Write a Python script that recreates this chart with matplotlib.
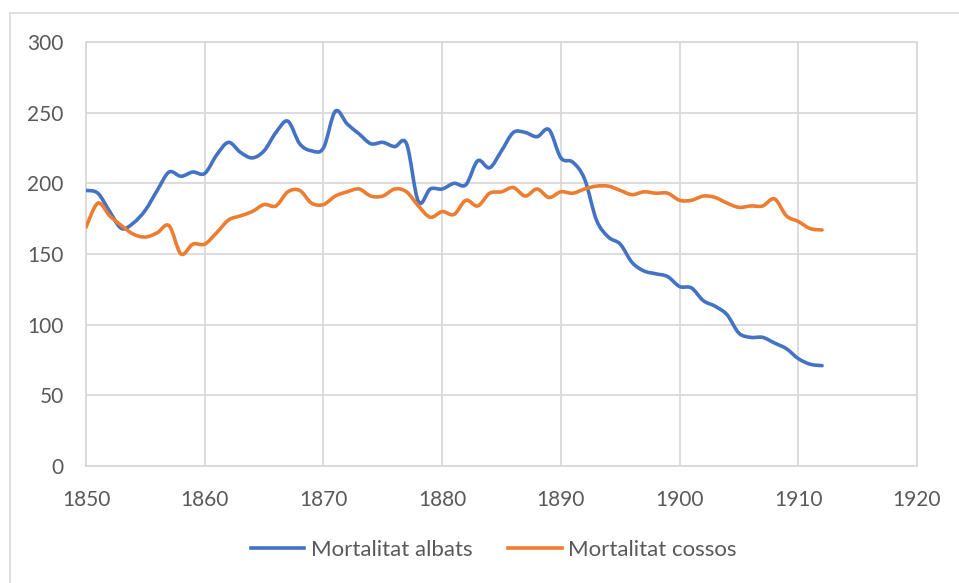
import numpy as np
import matplotlib
matplotlib.use("Agg")
import matplotlib.pyplot as plt
from matplotlib.path import Path
from matplotlib.patches import PathPatch
from matplotlib.lines import Line2D

years = list(range(1850, 1913))
albats = [195, 193, 180, 168, 172, 181, 195, 208, 205, 208, 207,
          220, 229, 222, 218, 223, 236, 244, 228, 223, 225,
          251, 242, 235, 228, 229, 226, 228, 187, 196, 196,
          200, 199, 216, 211, 223, 236, 236, 233, 238, 218,
          215, 203, 174, 162, 157, 144, 138, 136, 134, 127,
          126, 117, 113, 107, 94, 91, 91, 87, 83, 76,
          72, 71]
cossos = [169, 186, 177, 170, 164, 162, 165, 170, 150, 157, 157,
          165, 174, 177, 180, 185, 184, 194, 195, 186, 185,
          191, 194, 196, 191, 191, 196, 194, 184, 176, 180,
          178, 188, 184, 193, 194, 197, 191, 196, 190, 194,
          193, 196, 198, 198, 195, 192, 194, 193, 193, 188,
          188, 191, 190, 186, 183, 184, 184, 189, 177, 173,
          168, 167]
series_names = ["Mortalitat albats", "Mortalitat cossos"]
colors = ["#4472C4", "#ED7D31"]
xticks = list(range(1850, 1921, 10))
yticks = list(range(0, 301, 50))

plt.rcParams["font.family"] = ["Lato", "DejaVu Sans"]
FS = 15
LEG_FS = 16
TXT = "#595959"
GRID = "#d9d9d9"
LW = 2.6

fig = plt.figure(figsize=(9.59, 5.83), dpi=100)
ax = fig.add_axes([86/959, 1-466/583, (917-86)/959, (466-42)/583])


def smooth_path(x, y):
    x = np.asarray(x, float)
    y = np.asarray(y, float)
    verts = [(x[0], y[0])]
    codes = [Path.MOVETO]
    n = len(x)
    t = 1/6
    for i in range(n-1):
        p0 = (x[max(i-1, 0)], y[max(i-1, 0)])
        p1 = (x[i], y[i])
        p2 = (x[i+1], y[i+1])
        p3 = (x[min(i+2, n-1)], y[min(i+2, n-1)])
        c1 = (p1[0] + (p2[0]-p0[0])*t, p1[1] + (p2[1]-p0[1])*t)
        c2 = (p2[0] - (p3[0]-p1[0])*t, p2[1] - (p3[1]-p1[1])*t)
        verts += [c1, c2, p2]
        codes += [Path.CURVE4]*3
    return Path(verts, codes)


for vals, c in zip([albats, cossos], colors):
    patch = PathPatch(smooth_path(years, vals), facecolor="none", edgecolor=c,
                      lw=LW, capstyle="round", joinstyle="round", zorder=3)
    ax.add_patch(patch)

ax.set_xlim(1850, 1920)
ax.set_ylim(0, 300)
ax.set_xticks(xticks)
ax.set_yticks(yticks)
ax.grid(True, color=GRID, lw=1.3)
ax.set_axisbelow(True)
for s in ax.spines.values():
    s.set_color(GRID)
    s.set_linewidth(1.3)
ax.tick_params(length=0, labelsize=FS, labelcolor=TXT)
ax.tick_params(axis="y", pad=16)
ax.tick_params(axis="x", pad=17)

handles = [Line2D([0], [0], color=c, lw=LW) for c in colors]
fig.legend(handles, series_names, loc="center", bbox_to_anchor=(494/959, 1-550/583),
           ncol=2, frameon=False, fontsize=LEG_FS, labelcolor=TXT,
           handlelength=2.4, columnspacing=1.6, handletextpad=0.3)

# chart-area border (cropped at right and bottom)
fig.add_artist(Line2D([10/959, 1], [1-12.5/583, 1-12.5/583], color=GRID, lw=1.2,
                      transform=fig.transFigure))
fig.add_artist(Line2D([10/959, 10/959], [0, 1-12.5/583], color=GRID, lw=1.2,
                      transform=fig.transFigure))

fig.savefig("out.png", dpi=100)
